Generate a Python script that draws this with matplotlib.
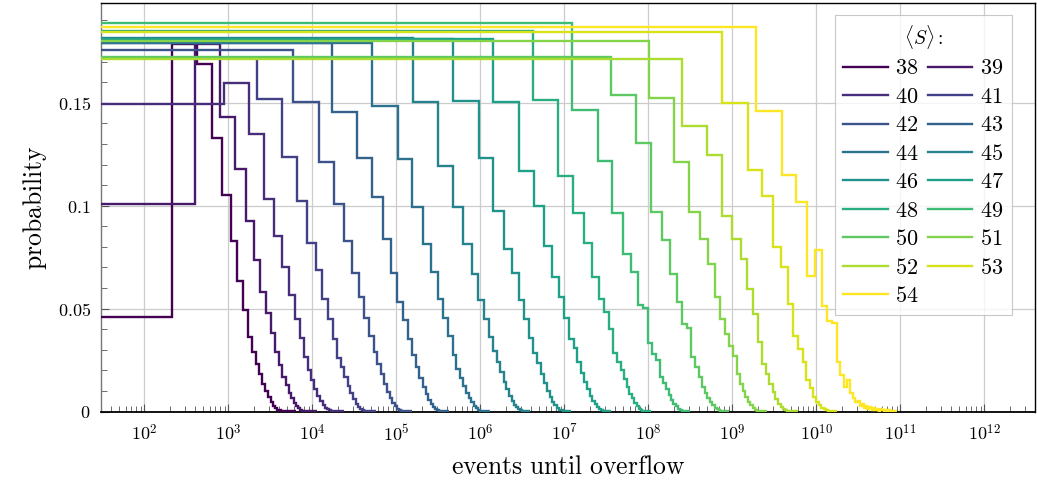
import numpy as np
import matplotlib
matplotlib.use("Agg")
import matplotlib.pyplot as plt
from matplotlib.lines import Line2D
from matplotlib.ticker import LogLocator, MultipleLocator, FixedLocator, FixedFormatter, NullFormatter

plt.rcParams['mathtext.fontset'] = 'cm'
plt.rcParams['font.family'] = 'serif'

# ---------------- data ----------------
mean_S = [38, 39, 40, 41, 42, 43, 44, 45, 46, 47, 48, 49, 50, 51, 52, 53, 54]
# linear bin width of each histogram (events)
bin_widths = [212, 400, 880, 2180, 5950, 17100, 51700, 157000, 476000, 1.43e6,
              4.25e6, 1.24e7, 3.6e7, 1.02e8, 2.5e8, 7.6e8, 1.93e9]

h38 = [0.046, 0.1785, 0.1688, 0.1329, 0.1053, 0.083, 0.0636, 0.0495, 0.0361, 0.0288, 0.0231, 0.018, 0.0134,
       0.0099, 0.0069, 0.0045, 0.0029, 0.0016, 0.0008, 0.0005, 0.0003, 0.0002, 0.00015, 0.0001, 0.0001,
       0.00006, 0.00004, 0.00003, 0.00002, 0.00001]
h39 = [0.101, 0.1785, 0.1432, 0.1178, 0.0927, 0.0735, 0.058, 0.0477, 0.038, 0.029, 0.0226, 0.0169, 0.0129,
       0.0091, 0.0064, 0.0042, 0.0026, 0.0015, 0.0008, 0.0004, 0.0002, 0.00015, 0.0001, 0.00007, 0.00005,
       0.00003, 0.00002, 0.00001]
h40 = [0.1494, 0.1595, 0.1348, 0.1032, 0.0855, 0.0703, 0.0566, 0.0448, 0.0355, 0.0266, 0.0201, 0.0153, 0.0108,
       0.0077, 0.0053, 0.0032, 0.0019, 0.0011, 0.0006, 0.0003, 0.0002, 0.0001, 0.00008, 0.00005, 0.00003,
       0.00002, 0.00001]
h41 = [0.172, 0.1517, 0.1238, 0.1024, 0.0817, 0.069, 0.0549, 0.0448, 0.0353, 0.0258, 0.0217, 0.0169, 0.0124,
       0.009, 0.0061, 0.0037, 0.0021, 0.0011, 0.0005, 0.0003, 0.0002, 0.0001, 0.00007, 0.00004, 0.00002, 0.00001]
h42 = [0.1757, 0.1506, 0.121, 0.1008, 0.083, 0.0674, 0.0557, 0.0452, 0.0367, 0.029, 0.0232, 0.0182, 0.0133,
       0.0096, 0.0067, 0.0042, 0.0026, 0.0014, 0.0007, 0.0004, 0.0002, 0.0001, 0.00007, 0.00004, 0.00002, 0.00001]
h43 = [0.1793, 0.1453, 0.1231, 0.1044, 0.0838, 0.0671, 0.0533, 0.0444, 0.0353, 0.0274, 0.0215, 0.0165, 0.0118,
       0.0085, 0.0056, 0.0037, 0.0021, 0.001, 0.0005, 0.0003, 0.0001, 0.00008, 0.00005, 0.00003, 0.00001]
h44 = [0.1793, 0.1485, 0.1227, 0.0992, 0.0813, 0.0676, 0.0547, 0.0455, 0.0367, 0.0274, 0.0208, 0.0165, 0.0125,
       0.0092, 0.0066, 0.0044, 0.0028, 0.0016, 0.0008, 0.0004, 0.0002, 0.0001, 0.00006, 0.00003, 0.00001]
h45 = [0.1817, 0.1502, 0.1191, 0.0995, 0.0813, 0.0669, 0.0541, 0.0448, 0.0361, 0.0295, 0.0242, 0.0193, 0.0145,
       0.0107, 0.0075, 0.0052, 0.0034, 0.0022, 0.0012, 0.0006, 0.0003, 0.0002, 0.0001, 0.00005, 0.00002]
h46 = [0.181, 0.151, 0.123, 0.0976, 0.079, 0.0672, 0.0541, 0.045, 0.0358, 0.0283, 0.0234, 0.0182, 0.0137,
       0.01, 0.007, 0.0045, 0.003, 0.0018, 0.0009, 0.0005, 0.0002, 0.0001, 0.00006, 0.00003, 0.00001]
h47 = [0.181, 0.1506, 0.117, 0.100, 0.0806, 0.0654, 0.0557, 0.0455, 0.0353, 0.031, 0.0242, 0.0185, 0.0145,
       0.0107, 0.0075, 0.0052, 0.0035, 0.0022, 0.0012, 0.0006, 0.0003, 0.0002, 0.0001, 0.00005, 0.00002]
h48 = [0.185, 0.1513, 0.1146, 0.0963, 0.0817, 0.0654, 0.0547, 0.0485, 0.0399, 0.0283, 0.0242, 0.0201, 0.016,
       0.012, 0.0085, 0.0065, 0.0042, 0.0026, 0.0014, 0.0007, 0.0003, 0.0002, 0.0001, 0.00005, 0.00002]
h49 = [0.1887, 0.1464, 0.1218, 0.0963, 0.0766, 0.0676, 0.0517, 0.0505, 0.0331, 0.0279, 0.025, 0.0169, 0.0137,
       0.011, 0.0079, 0.0055, 0.0038, 0.0026, 0.0014, 0.0007, 0.0004, 0.0002, 0.0001, 0.00005, 0.00002]
h50 = [0.1723, 0.154, 0.1307, 0.0968, 0.0833, 0.0669, 0.0533, 0.0425, 0.0405, 0.0266, 0.0217, 0.0169, 0.0121,
       0.0088, 0.0065, 0.0045, 0.003, 0.0018, 0.001, 0.0005, 0.0002, 0.0001, 0.00006, 0.00003, 0.00001]
h51 = [0.1798, 0.1521, 0.121, 0.0968, 0.0838, 0.0717, 0.0555, 0.045, 0.0375, 0.032, 0.0272, 0.0183, 0.0134,
       0.0102, 0.0071, 0.0047, 0.003, 0.0018, 0.0009, 0.0004, 0.0002, 0.0001, 0.00006, 0.00003, 0.00001]
h52 = [0.1712, 0.1388, 0.1248, 0.0951, 0.0838, 0.0741, 0.0596, 0.0474, 0.0336, 0.0231, 0.0183, 0.0134, 0.0094,
       0.0061, 0.0037, 0.0021, 0.0012, 0.0007, 0.0004, 0.0002, 0.0001, 0.00006, 0.00003, 0.00001]
h53 = [0.1846, 0.1497, 0.1175, 0.1045, 0.0798, 0.0701, 0.0523, 0.0369, 0.0304, 0.0239, 0.0153, 0.0113, 0.0072,
       0.0047, 0.003, 0.0019, 0.001, 0.0005, 0.0002, 0.0001, 0.00006, 0.00003, 0.00001]
h54 = [0.1866, 0.1458, 0.115, 0.1016, 0.066, 0.0785, 0.0515, 0.0442, 0.043, 0.0239, 0.0175, 0.012, 0.0155,
       0.009, 0.0068, 0.0045, 0.0052, 0.0025, 0.0038, 0.0015, 0.0028, 0.0012, 0.0022, 0.0018, 0.0008, 0.0015,
       0.0006, 0.0012, 0.0009, 0.0004, 0.0011, 0.0005, 0.0008, 0.0003, 0.0007, 0.0002, 0.0006, 0.0003, 0.0005,
       0.0001, 0.0004, 0.0002, 0.0003, 0.0001, 0.0002, 0.0001, 0.0001]

heights = [h38, h39, h40, h41, h42, h43, h44, h45, h46, h47, h48, h49, h50, h51, h52, h53, h54]

x_tick_exponents = [2, 3, 4, 5, 6, 7, 8, 9, 10, 11, 12]
y_ticks = [0, 0.05, 0.1, 0.15]
y_tick_labels = ['0', '0.05', '0.1', '0.15']

# ---------------- figure ----------------
fig = plt.figure(figsize=(10.37, 4.86), dpi=100)
ax = fig.add_axes([100.5 / 1037, 1 - 411.5 / 486, 934.5 / 1037, 408.5 / 486])

xmin, xmax = 30, 4e12
colors = plt.cm.viridis(np.linspace(0, 1, len(mean_S)))

for S, w, h, c in zip(mean_S, bin_widths, heights, colors):
    edges = w * np.arange(len(h) + 1, dtype=float)
    edges[0] = xmin / 10.0
    ax.stairs(h, edges, color=c, lw=1.7, baseline=None, zorder=3)

ax.set_xscale('log')
ax.set_xlim(xmin, xmax)
ax.set_ylim(0, 0.1985)

ax.xaxis.set_major_locator(FixedLocator([10.0 ** e for e in x_tick_exponents]))
ax.xaxis.set_major_formatter(FixedFormatter(['$10^{%d}$' % e for e in x_tick_exponents]))
ax.xaxis.set_minor_locator(LogLocator(base=10, subs=np.arange(2, 10), numticks=300))
ax.xaxis.set_minor_formatter(NullFormatter())
ax.yaxis.set_major_locator(FixedLocator(y_ticks))
ax.yaxis.set_major_formatter(FixedFormatter(['$%s$' % s for s in y_tick_labels]))
ax.yaxis.set_minor_locator(MultipleLocator(0.01))

ax.tick_params(which='both', direction='in', top=False, right=False, labelsize=13, color='#555555')
ax.tick_params(which='major', length=6, width=0.8, pad=7)
ax.tick_params(which='minor', length=4, width=0.6)
ax.tick_params(axis='x', which='major', pad=9)

ax.grid(True, which='major', color='#cccccc', lw=0.9, zorder=0)
ax.set_axisbelow(True)

for side in ['top', 'right', 'bottom']:
    ax.spines[side].set_color('black')
    ax.spines[side].set_linewidth(1.0)
ax.spines['bottom'].set_linewidth(1.3)
ax.spines['left'].set_color('#777777')
ax.spines['left'].set_linewidth(1.0)

ax.set_ylabel(r'$\mathrm{probability}$', fontsize=18.5)
ax.set_xlabel(r'$\mathrm{events\ until\ overflow}$', fontsize=18.5)
ax.yaxis.set_label_coords((35 - 100.5) / 934.5, 0.5)
ax.xaxis.set_label_coords(0.5, (411.5 - 466) / 408.5)
ax.xaxis.label.set_va('center')
ax.yaxis.label.set_va('center')

# legend, row-major order in two columns
order = list(range(0, len(mean_S), 2)) + list(range(1, len(mean_S), 2))
handles = [Line2D([], [], color=colors[i], lw=1.7) for i in order]
labels = ['$%d$' % mean_S[i] for i in order]
leg = ax.legend(handles, labels, ncol=2, title=r'$\langle S\rangle{:}$',
                loc='upper right', bbox_to_anchor=((1012 - 100.5) / 934.5, 1 - (15 - 3) / 408.5),
                borderaxespad=0, frameon=True, fancybox=False, edgecolor='#bbbbbb',
                fontsize=16, title_fontsize=14, handlelength=2.0, handletextpad=0.35,
                columnspacing=0.4, labelspacing=0.29, borderpad=0.36)
leg.get_frame().set_linewidth(0.8)
leg.set_zorder(5)

fig.savefig('out.png', dpi=100)
